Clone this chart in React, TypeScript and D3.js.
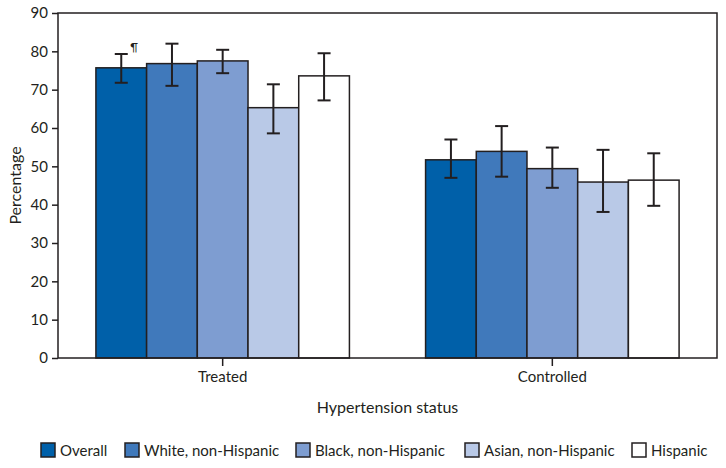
import React, { useRef, useEffect } from "react";
import * as d3 from "d3";

const groups = ["Treated", "Controlled"];
const series = [
  "Overall",
  "White, non-Hispanic",
  "Black, non-Hispanic",
  "Asian, non-Hispanic",
  "Hispanic",
];
const colors = ["#0060a9", "#4079bb", "#7e9dd1", "#b9c9e7", "#ffffff"];

const treatedValues = [75.7, 76.8, 77.5, 65.3, 73.6];
const treatedLow = [71.8, 71.0, 74.3, 58.6, 67.2];
const treatedHigh = [79.3, 82.0, 80.4, 71.4, 79.5];

const controlledValues = [51.7, 53.9, 49.4, 45.9, 46.4];
const controlledLow = [47.0, 47.3, 44.4, 38.1, 39.7];
const controlledHigh = [57.0, 60.5, 54.9, 54.3, 53.4];

const yTicks = [0, 10, 20, 30, 40, 50, 60, 70, 80, 90];

const W = 726;
const H = 468;
const margin = { left: 58, right: 9, top: 13, bottom: 110 };
const legendX = [41, 125, 296, 465, 632];
const FONT = "Lato, 'Open Sans', sans-serif";
const INK = "#231f20";

const App: React.FC = () => {
  const svgRef = useRef<SVGSVGElement | null>(null);

  useEffect(() => {
    if (!svgRef.current) return;
    const svg = d3.select(svgRef.current);
    svg.selectAll("*").remove();

    const rows = [
      { group: groups[0], values: treatedValues, low: treatedLow, high: treatedHigh },
      { group: groups[1], values: controlledValues, low: controlledLow, high: controlledHigh },
    ];

    const x0 = d3
      .scaleBand()
      .domain(groups)
      .range([margin.left, W - margin.right])
      .paddingInner(0.231)
      .paddingOuter(0.115);
    const x1 = d3.scaleBand().domain(series).range([0, x0.bandwidth()]);
    const y = d3
      .scaleLinear()
      .domain([0, 90])
      .range([H - margin.bottom, margin.top]);

    const g = svg.append("g").attr("font-family", FONT);

    // bars
    rows.forEach((row) => {
      const gx = x0(row.group)!;
      const gg = g.append("g").attr("transform", `translate(${gx},0)`);
      gg.selectAll(".bar")
        .data(series)
        .enter()
        .append("rect")
        .attr("class", "bar")
        .attr("x", (d) => x1(d)!)
        .attr("y", (_d, i) => y(row.values[i]))
        .attr("width", x1.bandwidth())
        .attr("height", (_d, i) => y(0) - y(row.values[i]))
        .attr("fill", (_d, i) => colors[i])
        .attr("stroke", INK)
        .attr("stroke-width", 1.5);

      // error bars
      const eb = gg
        .selectAll(".err")
        .data(series)
        .enter()
        .append("g")
        .attr("class", "err")
        .attr("stroke", INK)
        .attr("stroke-width", 2);
      const cx = (d: string) => x1(d)! + x1.bandwidth() / 2;
      eb.append("line")
        .attr("x1", cx)
        .attr("x2", cx)
        .attr("y1", (_d, i) => y(row.low[i]))
        .attr("y2", (_d, i) => y(row.high[i]));
      eb.append("line")
        .attr("x1", (d) => cx(d) - 6.5)
        .attr("x2", (d) => cx(d) + 6.5)
        .attr("y1", (_d, i) => y(row.high[i]))
        .attr("y2", (_d, i) => y(row.high[i]));
      eb.append("line")
        .attr("x1", (d) => cx(d) - 6.5)
        .attr("x2", (d) => cx(d) + 6.5)
        .attr("y1", (_d, i) => y(row.low[i]))
        .attr("y2", (_d, i) => y(row.low[i]));
    });

    // pilcrow marker on Treated / Overall
    g.append("text")
      .attr("x", x0(groups[0])! + x1(series[0])! + x1.bandwidth() / 2 + 9)
      .attr("y", y(treatedHigh[0]) - 3)
      .attr("font-size", 11)
      .attr("fill", INK)
      .text("¶");

    // frame
    g.append("rect")
      .attr("x", margin.left)
      .attr("y", margin.top)
      .attr("width", W - margin.left - margin.right)
      .attr("height", H - margin.top - margin.bottom)
      .attr("fill", "none")
      .attr("stroke", INK)
      .attr("stroke-width", 1.5);

    // y axis
    const yAxis = d3
      .axisLeft(y)
      .tickValues(yTicks)
      .tickSize(6)
      .tickPadding(4);
    const ya = g
      .append("g")
      .attr("transform", `translate(${margin.left},0)`)
      .call(yAxis);
    ya.select(".domain").remove();
    ya.selectAll("line").attr("stroke", INK).attr("stroke-width", 1.5);
    ya.selectAll("text")
      .attr("font-family", FONT)
      .attr("font-size", 15)
      .attr("fill", INK);

    // x axis
    const xAxis = d3.axisBottom(x0).tickSize(8).tickPadding(5);
    const xa = g
      .append("g")
      .attr("transform", `translate(0,${H - margin.bottom})`)
      .call(xAxis);
    xa.select(".domain").remove();
    xa.selectAll("line").attr("stroke", INK).attr("stroke-width", 1.5);
    xa.selectAll("text")
      .attr("font-family", FONT)
      .attr("font-size", 15)
      .attr("fill", INK);

    // axis titles
    g.append("text")
      .attr("transform", `translate(21,${(margin.top + H - margin.bottom) / 2}) rotate(-90)`)
      .attr("text-anchor", "middle")
      .attr("font-size", 16)
      .attr("fill", INK)
      .text("Percentage");
    g.append("text")
      .attr("x", (margin.left + W - margin.right) / 2)
      .attr("y", 413)
      .attr("text-anchor", "middle")
      .attr("font-size", 16)
      .attr("fill", INK)
      .text("Hypertension status");

    // legend
    const lg = g
      .selectAll(".legend")
      .data(series)
      .enter()
      .append("g")
      .attr("class", "legend")
      .attr("transform", (_d, i) => `translate(${legendX[i]},443)`);
    lg.append("rect")
      .attr("width", 14)
      .attr("height", 14)
      .attr("fill", (_d, i) => colors[i])
      .attr("stroke", INK)
      .attr("stroke-width", 1.5);
    lg.append("text")
      .attr("x", 19)
      .attr("y", 13)
      .attr("font-size", 15)
      .attr("fill", INK)
      .text((d) => d);
  }, []);

  return (
    <svg
      ref={svgRef}
      width={W}
      height={H}
      style={{ position: "absolute", left: 0, top: 0, background: "#fff" }}
    ></svg>
  );
};

export default App;
